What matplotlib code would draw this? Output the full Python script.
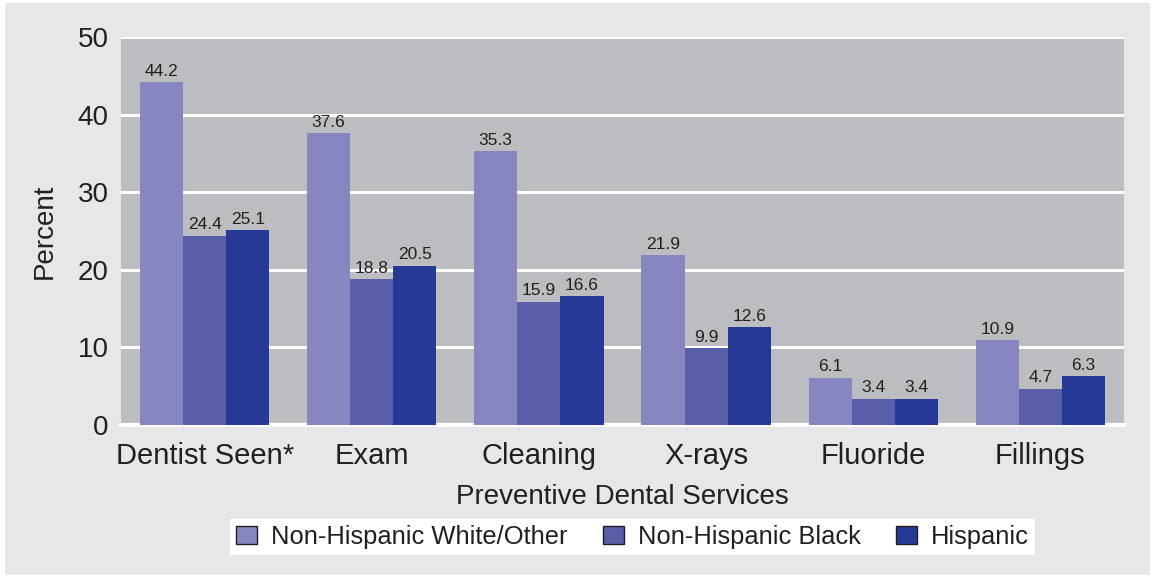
import matplotlib
matplotlib.use("Agg")
import matplotlib.pyplot as plt
import numpy as np
from matplotlib.patches import Rectangle, Patch

plt.rcParams['font.family'] = ['Liberation Sans', 'DejaVu Sans']

categories = ["Dentist Seen*", "Exam", "Cleaning", "X-rays", "Fluoride", "Fillings"]
series_names = ["Non-Hispanic White/Other", "Non-Hispanic Black", "Hispanic"]
white_other = [44.2, 37.6, 35.3, 21.9, 6.1, 10.9]
black = [24.4, 18.8, 15.9, 9.9, 3.4, 4.7]
hispanic = [25.1, 20.5, 16.6, 12.6, 3.4, 6.3]
y_ticks = [0, 10, 20, 30, 40, 50]

colors = ["#8886c0", "#5a5ea9", "#263996"]
text_color = "#231f20"

W, H = 1154, 578
fig = plt.figure(figsize=(W / 100, H / 100), dpi=100, facecolor="white")

# light grey panel behind everything
fig.patches.append(Rectangle((5 / W, 3 / H), (1150 - 5) / W, (575 - 3) / H,
                             transform=fig.transFigure, facecolor="#e6e7e9",
                             edgecolor="none", zorder=-10))

ax = fig.add_axes([121 / W, 1 - 425 / H, (1124 - 121) / W, (425 - 37) / H])
ax.set_facecolor("#bcbdc0")

x = np.arange(len(categories))
width = 0.258
all_series = [white_other, black, hispanic]
for i, (vals, col) in enumerate(zip(all_series, colors)):
    pos = x + (i - 1) * width
    bars = ax.bar(pos, vals, width=width, color=col, edgecolor="none", zorder=3)
    for b, v in zip(bars, vals):
        ax.annotate(f"{v}", (b.get_x() + b.get_width() / 2, v),
                    xytext=(0, 2.5), textcoords="offset points",
                    ha="center", va="bottom", fontsize=12.5, color=text_color,
                    zorder=4)

ax.set_xlim(-0.5, len(categories) - 0.5)
ax.set_ylim(0, 50)
ax.set_yticks(y_ticks)
ax.set_yticklabels([str(t) for t in y_ticks])
ax.yaxis.grid(True, color="white", linewidth=2.2, zorder=1)
ax.set_axisbelow(True)
ax.axhline(0, color="white", linewidth=3, zorder=2, clip_on=False)

ax.set_xticks(x)
ax.set_xticklabels(categories)
ax.tick_params(axis="both", length=0, colors=text_color)
ax.tick_params(axis="y", labelsize=20, pad=9)
ax.tick_params(axis="x", labelsize=21, pad=12)
for s in ax.spines.values():
    s.set_visible(False)

ax.set_xlabel("Preventive Dental Services", fontsize=20, color=text_color, labelpad=10)
ax.set_ylabel("Percent", fontsize=20, color=text_color, labelpad=14)

handles = [Patch(facecolor=c, edgecolor="#231f20", linewidth=1.0) for c in colors]
leg = fig.legend(handles, series_names, loc="center",
                 bbox_to_anchor=(632.5 / W, 1 - 537 / H), ncol=3,
                 fontsize=18.4, frameon=True, fancybox=False, framealpha=1,
                 handlelength=0.8, handleheight=0.75, handletextpad=0.55,
                 columnspacing=1.4, borderpad=0.25, borderaxespad=0)
leg.get_frame().set_facecolor("white")
leg.get_frame().set_edgecolor("none")
for t in leg.get_texts():
    t.set_color(text_color)

fig.savefig("out.png", dpi=100, facecolor=fig.get_facecolor())
